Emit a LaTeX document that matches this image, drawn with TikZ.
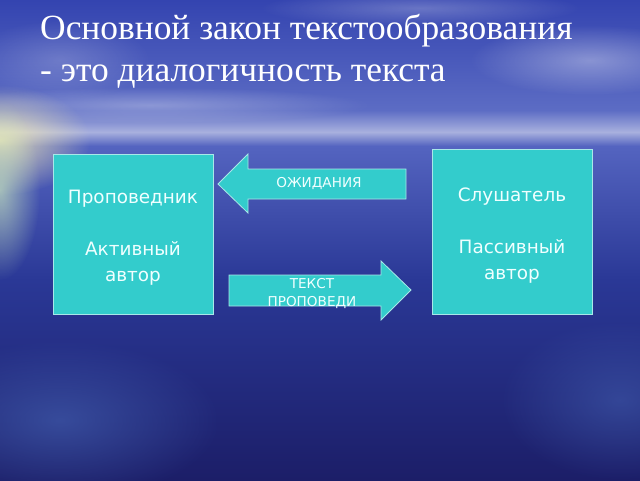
\documentclass[tikz,border=0pt]{standalone}
\usepackage{fontspec}
\setmainfont{Liberation Serif}
\newfontfamily\boxfont{DejaVu Sans}
\usetikzlibrary{fadings}
\tikzfading[name=glow, inner color=transparent!0, outer color=transparent!100]
\definecolor{teal1}{HTML}{33CCCC}
\definecolor{tealedge}{HTML}{A8E8E8}
\definecolor{boxtext}{HTML}{F0FFFF}
\definecolor{skyTop}{RGB}{52,68,176}
\definecolor{skyLow}{RGB}{92,108,196}
\definecolor{hazeBand}{RGB}{168,176,222}
\definecolor{seaTop}{RGB}{84,100,192}
\definecolor{seaMid}{RGB}{42,56,150}
\definecolor{seaBot}{RGB}{28,30,104}
\tikzset{
  roleBox/.style={draw=tealedge, line width=0.8pt, fill=teal1},
  roleText/.style={text=boxtext, font=\boxfont\fontsize{18.4}{26}\selectfont, align=center, inner sep=0pt},
  arrowShape/.style={draw=tealedge, line width=0.8pt, fill=teal1},
  arrowText/.style={text=boxtext, font=\boxfont\fontsize{13.6}{18}\selectfont, align=center, inner sep=0pt},
  titleText/.style={text=white, font=\fontsize{35.4}{42}\selectfont, anchor=base west, inner sep=0pt}
}
\begin{document}
\begin{tikzpicture}[x=1pt,y=-1pt]
\useasboundingbox (0,0) rectangle (640,480);
% sky
\shade[top color=skyTop, bottom color=skyLow] (0,0) rectangle (640,110);
\shade[top color=skyLow, bottom color=hazeBand] (0,110) rectangle (640,132);
\shade[top color=hazeBand, bottom color=seaTop] (0,132) rectangle (640,146);
% ocean
\shade[top color=seaTop, bottom color=seaMid] (0,146) rectangle (640,280);
\shade[top color=seaMid, bottom color=seaBot] (0,280) rectangle (640,480);
% clouds and glows
\fill[color=white, path fading=glow, opacity=0.35] (590,60) ellipse (120 and 35);
\fill[color=white, path fading=glow, opacity=0.3] (150,105) ellipse (220 and 18);
\fill[color=white, path fading=glow, opacity=0.25] (420,8) ellipse (160 and 18);
\fill[color=white, path fading=glow, opacity=0.2] (60,60) ellipse (90 and 40);
\fill[color={rgb,255:red,245;green,235;blue,180}, path fading=glow, opacity=0.85] (0,140) ellipse (90 and 55);
\fill[color={rgb,255:red,200;green,230;blue,190}, path fading=glow, opacity=0.7] (0,190) ellipse (40 and 90);
\fill[color={rgb,255:red,70;green,100;blue,180}, path fading=glow, opacity=0.6] (60,420) ellipse (160 and 80);
\fill[color={rgb,255:red,70;green,100;blue,180}, path fading=glow, opacity=0.5] (620,400) ellipse (120 and 80);
% title
\node[titleText] (title1) at (40,39) {Основной закон текстообразования};
\node[titleText] (title2) at (40,81) {- это диалогичность текста};
% boxes
\node[roleBox, minimum width=160pt, minimum height=160pt] (speaker) at (133,234) {};
\node[roleText] (speakerText) at (133,238) {Проповедник\\[26pt]Активный\\автор};
\node[roleBox, minimum width=160pt, minimum height=165pt] (listener) at (512,231.5) {};
\node[roleText] (listenerText) at (512,235.5) {Слушатель\\[26pt]Пассивный\\автор};
% arrows
\draw[arrowShape] (406,169) -- (248,169) -- (248,154) -- (218,184) -- (248,213) -- (248,199) -- (406,199) -- cycle;
\node[arrowText] (exp) at (319,184) {ОЖИДАНИЯ};
\draw[arrowShape] (229,275) -- (381,275) -- (381,261) -- (411,290) -- (381,320) -- (381,306) -- (229,306) -- cycle;
\node[arrowText] (txt) at (312,294) {ТЕКСТ\\ПРОПОВЕДИ};
\end{tikzpicture}
\end{document}
